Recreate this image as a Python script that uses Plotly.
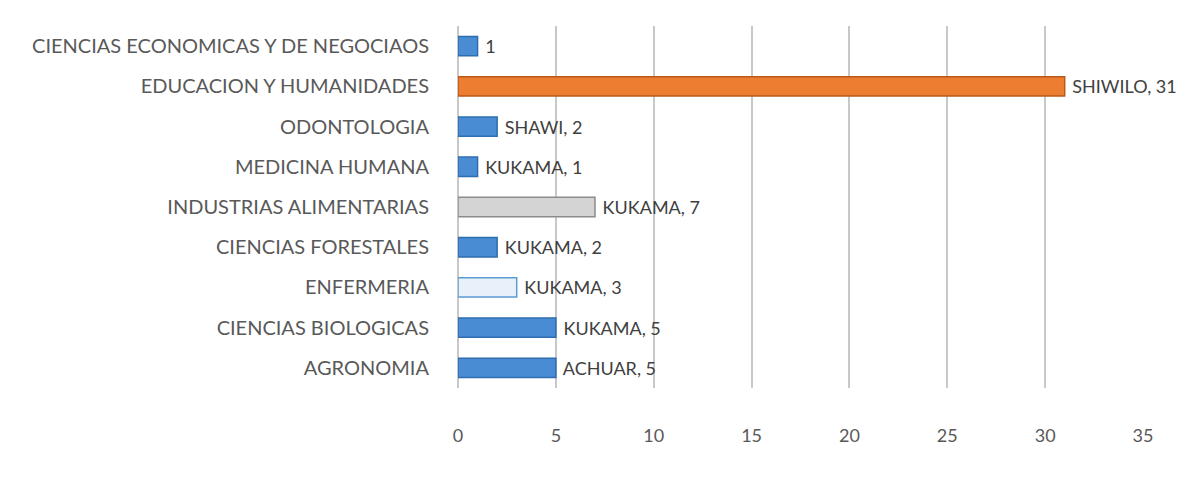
import plotly.graph_objects as go

carreras = [
    "CIENCIAS ECONOMICAS Y DE NEGOCIAOS",
    "EDUCACION Y HUMANIDADES",
    "ODONTOLOGIA",
    "MEDICINA HUMANA",
    "INDUSTRIAS ALIMENTARIAS",
    "CIENCIAS FORESTALES",
    "ENFERMERIA",
    "CIENCIAS BIOLOGICAS",
    "AGRONOMIA",
]
pueblos = ["", "SHIWILO", "SHAWI", "KUKAMA", "KUKAMA", "KUKAMA", "KUKAMA", "KUKAMA", "ACHUAR"]
valores = [1, 31, 2, 1, 7, 2, 3, 5, 5]

colores = ["#4A8CD4", "#ED7D31", "#4A8CD4", "#4A8CD4", "#D4D4D4", "#4A8CD4", "#E8F1FA", "#4A8CD4", "#4A8CD4"]
bordes = ["#2E6DAE", "#B85A1C", "#2E6DAE", "#2E6DAE", "#8C8C8C", "#2E6DAE", "#5B9BD5", "#2E6DAE", "#2E6DAE"]

# etiqueta "PUEBLO, valor" (sin pueblo solo el valor)
etiquetas = [f" {p}, {v}" if p else f" {v}" for p, v in zip(pueblos, valores)]

fig = go.Figure()
fig.add_trace(
    go.Bar(
        y=carreras,
        x=valores,
        orientation="h",
        width=0.48,
        marker=dict(color=colores, line=dict(color=bordes, width=1.5)),
        text=etiquetas,
        textposition="outside",
        constraintext="none",
        textfont=dict(size=18, color="#404040"),
        cliponaxis=False,
    )
)

fig.update_xaxes(
    range=[0, 35],
    dtick=5,
    showgrid=True,
    gridcolor="#C8C8C8",
    gridwidth=2,
    zeroline=True,
    zerolinecolor="#C8C8C8",
    zerolinewidth=2,
    showline=False,
    tickfont=dict(size=18, color="#595959"),
    ticklabelstandoff=35,
)
fig.update_yaxes(
    autorange="reversed",
    showgrid=False,
    tickfont=dict(size=20, color="#595959"),
    ticklabelstandoff=28,
)

fig.update_layout(
    width=1191,
    height=502,
    margin=dict(l=450, r=56, t=18, b=122),
    plot_bgcolor="white",
    paper_bgcolor="white",
    font=dict(family="Lato, Open Sans, sans-serif", color="#595959"),
    showlegend=False,
)

fig.write_html("out.html")
